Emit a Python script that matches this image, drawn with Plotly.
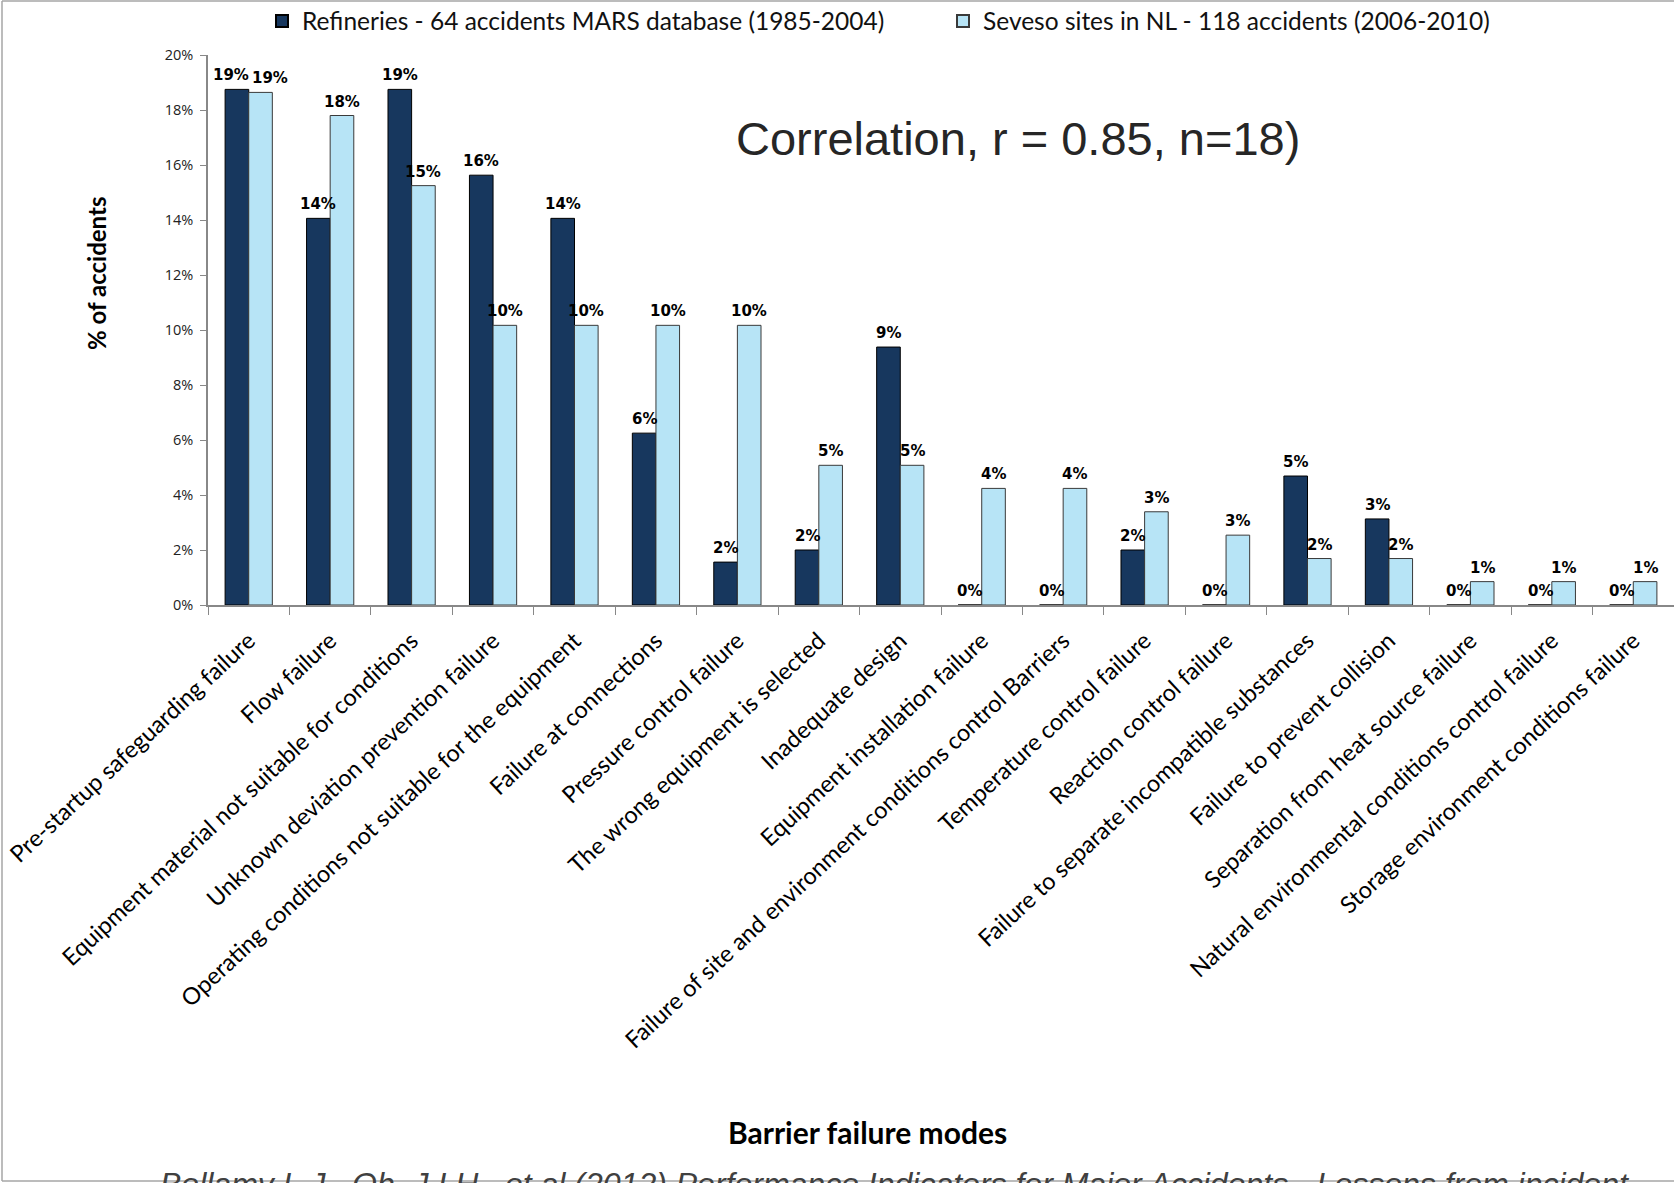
import plotly.graph_objects as go

categories = [
    "Pre-startup safeguarding failure",
    "Flow failure",
    "Equipment material not suitable for conditions",
    "Unknown deviation prevention failure",
    "Operating conditions not suitable for the equipment",
    "Failure at connections",
    "Pressure control failure",
    "The wrong equipment is selected",
    "Inadequate design",
    "Equipment installation failure",
    "Failure of site and environment conditions control Barriers",
    "Temperature control failure",
    "Reaction control failure",
    "Failure to separate incompatible substances",
    "Failure to prevent collision",
    "Separation from heat source failure",
    "Natural environmental conditions control failure",
    "Storage environment conditions failure",
]

# % of accidents (as fractions)
refineries = [0.1875, 0.1406, 0.1875, 0.1563, 0.1406, 0.0625, 0.0156, 0.0200, 0.0938,
              0.0, 0.0, 0.0200, 0.0, 0.0469, 0.0313, 0.0, 0.0, 0.0]
seveso = [0.1864, 0.1780, 0.1525, 0.1017, 0.1017, 0.1017, 0.1017, 0.0508, 0.0508,
          0.0424, 0.0424, 0.0339, 0.0254, 0.0169, 0.0169, 0.0085, 0.0085, 0.0085]

series_names = ["Refineries - 64 accidents MARS database (1985-2004)",
                "Seveso sites in NL - 118 accidents (2006-2010)"]

W, H = 1674, 1183
L, R, T, B = 208, 0, 55, 578
PW = W - L - R
PH = H - T - B
BARGAP = 0.42


def px(x):
    return (x - L) / PW


def py(y):
    return (H - B - y) / PH


fig = go.Figure()
fig.add_trace(go.Bar(
    x=categories, y=refineries, name=series_names[0],
    marker=dict(color="#17375E", line=dict(color="#000000", width=1)),
))
fig.add_trace(go.Bar(
    x=categories, y=seveso, name=series_names[1],
    marker=dict(color="#B7E4F6", line=dict(color="#3a3a3a", width=1)),
))

# data labels (placed over each bar through the axis scales)
cat_w = PW / len(categories)
bar_off = cat_w * (1 - BARGAP) / 4
label_font = dict(family="DejaVu Sans", size=15, color="black")
for c, a, b in zip(categories, refineries, seveso):
    ta, tb = f"{a:.0%}", f"{b:.0%}"
    # push labels apart when they sit at the same height
    clash = abs(a - b) * PH / 0.2 < 16
    sa = -bar_off - (6 if clash else 0)
    sb = bar_off + (9 if clash else 0)
    for v, t, s in ((a, ta, sa), (b, tb, sb)):
        fig.add_annotation(x=c, y=v, xref="x", yref="y", text=f"<b>{t}</b>",
                           showarrow=False, xanchor="center", yanchor="bottom",
                           xshift=s, yshift=3, font=label_font)

fig.update_layout(
    width=W, height=H,
    margin=dict(l=L, r=R, t=T, b=B, autoexpand=False),
    paper_bgcolor="white", plot_bgcolor="white",
    barmode="group", bargap=BARGAP, bargroupgap=0,
    font=dict(family="Lato", color="black"),
    legend=dict(
        orientation="h", x=px(262), y=py(21), xanchor="left", yanchor="middle",
        font=dict(family="Lato", size=24.5, color="#111111"),
        entrywidth=636, entrywidthmode="pixels",
        bgcolor="rgba(0,0,0,0)", itemsizing="constant",
    ),
    xaxis=dict(
        type="category", tickangle=-43, tickson="boundaries",
        ticks="outside", ticklen=8, tickcolor="#888888",
        showline=True, linecolor="#888888", linewidth=1.5,
        tickfont=dict(family="Lato", size=23.5, color="black"),
        ticklabelstandoff=11,
        automargin=False, showgrid=False,
    ),
    yaxis=dict(
        range=[0, 0.2], dtick=0.02, tickformat=".0%",
        ticks="outside", ticklen=6, tickcolor="#888888",
        showline=True, linecolor="#888888", linewidth=1.5,
        tickfont=dict(family="Open Sans", size=14.5, color="#222222"),
        ticklabelstandoff=4,
        showgrid=False, zeroline=False, automargin=False,
    ),
    showlegend=True,
)

annotations = [
    dict(text="Correlation, r = 0.85, n=18)", x=px(1018), y=py(138),
         font=dict(family="Liberation Sans", size=47, color="#262626")),
    dict(text="<b>% of accidents</b>", x=px(96), y=py(274), textangle=-90,
         font=dict(family="Lato", size=24, color="black")),
    dict(text="<b>Barrier failure modes</b>", x=px(867), y=py(1132),
         font=dict(family="Lato", size=30, color="black")),
    dict(text="<i>Bellamy L.J., Oh, J.I.H., et al (2012) Performance Indicators for Major Accidents - Lessons from incident</i>",
         x=px(158), y=py(1164), xanchor="left", yanchor="top",
         font=dict(family="Liberation Sans", size=32, color="#404040")),
]
for a in annotations:
    a.update(xref="paper", yref="paper", showarrow=False)
    a.setdefault("xanchor", "center")
    a.setdefault("yanchor", "middle")
    fig.add_annotation(**a)

border = dict(color="#a6a6a6", width=1.5)
fig.add_shape(type="line", xref="paper", yref="paper", x0=px(2), x1=px(2), y0=py(1), y1=py(1181), line=border)
fig.add_shape(type="line", xref="paper", yref="paper", x0=px(2), x1=px(1674), y0=py(1), y1=py(1), line=border)
fig.add_shape(type="line", xref="paper", yref="paper", x0=px(2), x1=px(1674), y0=py(1181), y1=py(1181), line=border)

fig.write_html("out.html")
